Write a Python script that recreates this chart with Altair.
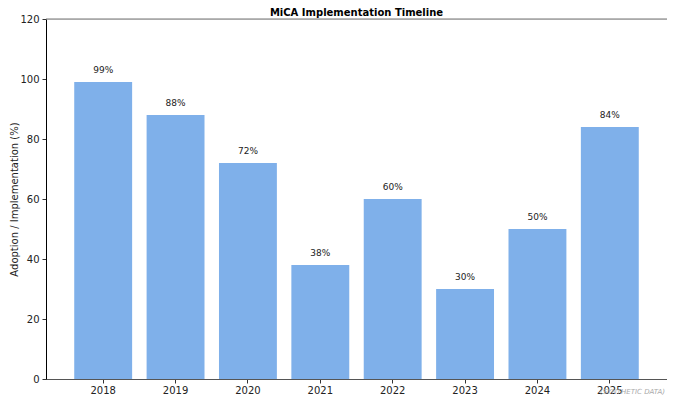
import altair as alt
import pandas as pd

years = ["2018", "2019", "2020", "2021", "2022", "2023", "2024", "2025"]
values = [99, 88, 72, 38, 60, 30, 50, 84]
labels = [f"{v}%" for v in values]
title_text = "MiCA Implementation Timeline"
note_text = "(SYNTHETIC DATA)"

df = pd.DataFrame({"year": years, "value": values, "label": labels})

FONT = "DejaVu Sans"
W, H = 621, 360

xscale = alt.Scale(paddingInner=0.2, paddingOuter=0.39)
yscale = alt.Scale(domain=[0, 120], nice=False)

base = alt.Chart(df)

bars = base.mark_bar(color="#7fb0ea").encode(
    x=alt.X("year:N", scale=xscale, sort=years, axis=alt.Axis(
        title=None, labelAngle=0, labelFont=FONT, labelFontSize=10, labelColor="#222222",
        tickSize=4, tickColor="#333333", domainColor="#555555", labelPadding=2,
        labelBaseline="top",
    )),
    y=alt.Y("value:Q", scale=yscale, axis=alt.Axis(
        title="Adoption / Implementation (%)", titleFont=FONT, titleFontSize=10,
        titleFontWeight="normal", titleColor="#222222", titlePadding=0,
        values=[0, 20, 40, 60, 80, 100, 120], labelFont=FONT, labelFontSize=10,
        labelColor="#222222", tickSize=4, tickColor="#333333", domainColor="#000000",
        labelPadding=3, grid=False,
    )),
)

text = base.mark_text(font=FONT, fontSize=9, color="#222222", baseline="alphabetic", dy=-9).encode(
    x=alt.X("year:N", scale=xscale, sort=years),
    y=alt.Y("value:Q", scale=yscale),
    text="label:N",
)

top = alt.Chart(pd.DataFrame({"v": [120]})).mark_rule(color="#777777", strokeWidth=1.2).encode(
    y=alt.Y("v:Q", scale=yscale)
)

title = alt.Chart(pd.DataFrame({"t": [title_text]})).mark_text(
    font=FONT, fontSize=10, fontWeight="bold", color="#000000", align="center", baseline="alphabetic"
).encode(x=alt.value(W / 2), y=alt.value(-3), text="t:N")

note = alt.Chart(pd.DataFrame({"t": [note_text]})).mark_text(
    font=FONT, fontSize=7, fontStyle="italic", color="#aaaaaa", align="right", baseline="middle"
).encode(x=alt.value(W - 2), y=alt.value(H + 13), text="t:N")

chart = alt.layer(bars, text, top, title, note).properties(
    width=W, height=H,
    autosize=alt.AutoSizeParams(type="none"),
    padding={"left": 38, "top": 11, "right": 0, "bottom": 16},
).configure_view(stroke="#e6e6e6").configure(background="white")

chart.save("out.html", embed_options={"renderer": "svg", "actions": False})
